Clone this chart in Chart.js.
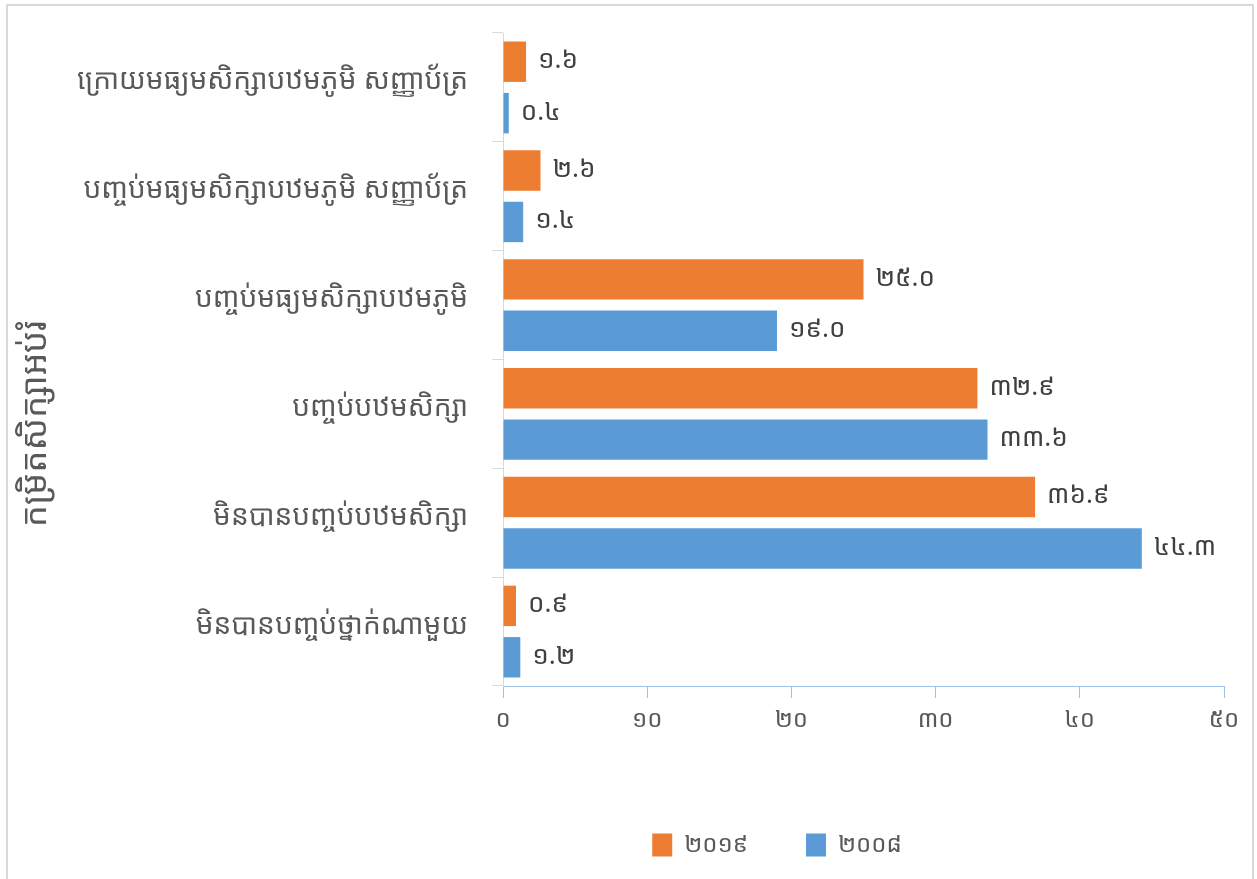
<!DOCTYPE html>
<html>
<head>
<meta charset="utf-8">
<script src="https://cdn.jsdelivr.net/npm/chart.js@4/dist/chart.umd.min.js"></script>
<style>
  html, body { margin: 0; padding: 0; background: #ffffff; overflow: hidden; }
  #wrap { position: relative; width: 1257px; height: 879px; }
  #c { position: absolute; left: 0; top: 0; }
  #frame { position: absolute; left: 6px; top: 4px; width: 1244px; height: 890px;
           border: 2px solid #d9d9d9; pointer-events: none; box-sizing: content-box; }
</style>
</head>
<body>
<div id="wrap">
  <canvas id="c" width="1257" height="879"></canvas>
  <div id="frame"></div>
</div>
<script>
// ---- data ----
const categories = [
  'ក្រោយមធ្យមសិក្សាបឋមភូមិ សញ្ញាប័ត្រ',
  'បញ្ចប់មធ្យមសិក្សាបឋមភូមិ សញ្ញាប័ត្រ',
  'បញ្ចប់មធ្យមសិក្សាបឋមភូមិ',
  'បញ្ចប់បឋមសិក្សា',
  'មិនបានបញ្ចប់បឋមសិក្សា',
  'មិនបានបញ្ចប់ថ្នាក់ណាមួយ'
];
const seriesNames = ['២០១៩', '២០០៨'];
const values2019 = [1.6, 2.6, 25.0, 32.9, 36.9, 0.9];
const values2008 = [0.4, 1.4, 19.0, 33.6, 44.3, 1.2];
const xTickLabels = ['០', '១០', '២០', '៣០', '៤០', '៥០'];
const axisTitle = 'កម្រិតសិក្សាអប់រំ';

const KH_DIGITS = '០១២៣៤៥៦៧៨៩';
function toKhmer(str) {
  return String(str).replace(/[0-9]/g, d => KH_DIGITS[+d]);
}

const FONT = "'Noto Sans Khmer', 'Khmer OS System', 'Khmer OS', 'Noto Sans', sans-serif";
Chart.defaults.font.family = FONT;
Chart.defaults.color = '#595959';

const dataLabelPlugin = {
  id: 'dataLabels',
  afterDatasetsDraw(chart) {
    const ctx = chart.ctx;
    ctx.save();
    ctx.font = '26px ' + FONT;
    ctx.fillStyle = '#404040';
    ctx.textAlign = 'left';
    ctx.textBaseline = 'middle';
    chart.data.datasets.forEach((ds, di) => {
      const meta = chart.getDatasetMeta(di);
      meta.data.forEach((el, i) => {
        ctx.fillText(toKhmer(ds.data[i].toFixed(1)), el.x + 12, el.y - 1);
      });
    });
    ctx.restore();
  }
};

const axisTitlePlugin = {
  id: 'axisTitleCentered',
  afterDraw(chart) {
    const ctx = chart.ctx;
    ctx.save();
    ctx.font = '35px ' + FONT;
    ctx.fillStyle = '#595959';
    ctx.textAlign = 'center';
    ctx.textBaseline = 'middle';
    ctx.translate(36, 424);
    ctx.rotate(-Math.PI / 2);
    ctx.fillText(axisTitle, 0, 0);
    ctx.restore();
  }
};

// legend sits centred under the span 330..1224 as in the reference
const legendSpanPlugin = {
  id: 'legendSpan',
  beforeDraw(chart) {
    const lg = chart.legend;
    if (lg) { lg.left = 330; lg.right = chart.chartArea.right; }
  }
};

new Chart(document.getElementById('c'), {
  type: 'bar',
  data: {
    labels: categories,
    datasets: [
      { label: seriesNames[0], data: values2019, backgroundColor: '#ED7D31',
        barPercentage: 0.786, categoryPercentage: 0.945 },
      { label: seriesNames[1], data: values2008, backgroundColor: '#5B9BD5',
        barPercentage: 0.786, categoryPercentage: 0.945 }
    ]
  },
  options: {
    indexAxis: 'y',
    responsive: false,
    animation: false,
    devicePixelRatio: 1,
    layout: { padding: { left: 40, right: 33, top: 33, bottom: 14 } },
    plugins: {
      tooltip: { enabled: false },
      legend: {
        position: 'bottom',
        maxHeight: 90,
        labels: {
          font: { size: 24 },
          color: '#595959',
          boxWidth: 20,
          boxHeight: 23,
          padding: 58
        }
      }
    },
    scales: {
      x: {
        min: 0, max: 50,
        ticks: {
          stepSize: 10,
          padding: 8,
          font: { size: 24 },
          color: '#595959',
          callback: (v, i) => xTickLabels[i]
        },
        grid: { display: true, drawOnChartArea: false, drawTicks: true,
                tickLength: 12, color: '#9dc3e6' },
        border: { display: true, color: '#9dc3e6', width: 1 },
        afterFit: s => { s.height = 89; }
      },
      y: {
        ticks: { padding: 24, labelOffset: -6, font: { size: 28 }, color: '#595959' },
        grid: { display: true, offset: true, drawOnChartArea: false, drawTicks: true,
                tickLength: 11, color: '#d9d9d9' },
        border: { display: true, color: '#d9d9d9', width: 1 },
        afterFit: s => { s.width = 463; s.paddingTop = 0; s.paddingBottom = 0; }
      }
    }
  },
  plugins: [dataLabelPlugin, axisTitlePlugin, legendSpanPlugin]
});
</script>
</body>
</html>
